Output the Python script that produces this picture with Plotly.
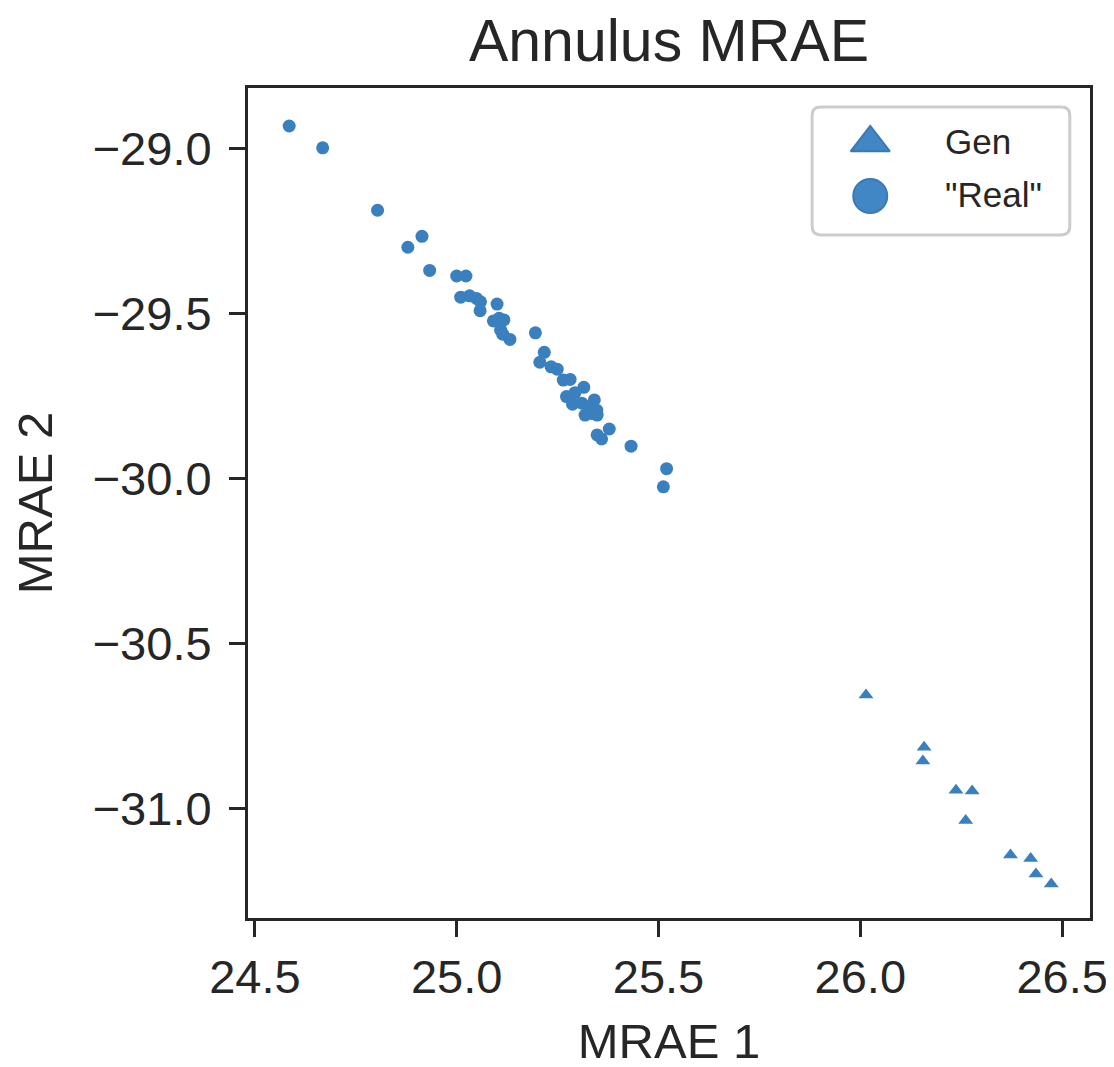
import plotly.graph_objects as go

# "Real" points (circles)
real_x = [24.585, 24.668, 24.804, 24.914, 24.879, 24.933, 25.000, 25.023, 25.010, 25.032,
          25.049, 25.059, 25.058, 25.100, 25.091, 25.105, 25.117, 25.109, 25.114, 25.132,
          25.195, 25.217, 25.206, 25.234, 25.249, 25.264, 25.281, 25.315, 25.272, 25.293,
          25.287, 25.310, 25.341, 25.318, 25.334, 25.347, 25.348, 25.328, 25.378, 25.348,
          25.359, 25.432, 25.520, 25.512]
real_y = [-28.933, -28.999, -29.188, -29.267, -29.300, -29.370, -29.387, -29.387, -29.451, -29.447,
          -29.455, -29.465, -29.492, -29.472, -29.523, -29.515, -29.520, -29.551, -29.563, -29.579,
          -29.559, -29.618, -29.648, -29.662, -29.669, -29.702, -29.700, -29.724, -29.752, -29.740,
          -29.775, -29.772, -29.762, -29.808, -29.803, -29.793, -29.808, -29.783, -29.850, -29.868,
          -29.880, -29.902, -29.970, -30.025]

# "Gen" points (triangles)
gen_x = [26.014, 26.158, 26.155, 26.237, 26.277, 26.261, 26.372, 26.422, 26.435, 26.473]
gen_y = [-30.655, -30.813, -30.855, -30.943, -30.946, -31.035, -31.139, -31.150, -31.197, -31.227]

x_ticks = [24.5, 25.0, 25.5, 26.0, 26.5]
y_ticks = [-29.0, -29.5, -30.0, -30.5, -31.0]
legend_names = ["Gen", "\"Real\""]

COLOR = "rgb(58,127,190)"
TEXT = "#262626"
FONT = "Liberation Sans, Arial, sans-serif"

fig = go.Figure()
fig.add_trace(go.Scatter(x=gen_x, y=gen_y, mode="markers", name=legend_names[0],
                         marker=dict(symbol="triangle-up", size=13, color=COLOR,
                                     line=dict(width=0))))
fig.add_trace(go.Scatter(x=real_x, y=real_y, mode="markers", name=legend_names[1],
                         marker=dict(symbol="circle", size=13, color=COLOR,
                                     line=dict(width=0))))

# Custom legend (large markers) on an overlay axis spanning the plot area
fig.add_trace(go.Scatter(x=[0.739, 0.739], y=[0.934, 0.870], mode="markers",
                         xaxis="x2", yaxis="y2", hoverinfo="skip",
                         marker=dict(symbol=["triangle-up", "circle"], size=34,
                                     color="rgba(66,135,197,1)",
                                     line=dict(width=2, color="rgb(58,122,180)"))))

# rounded legend frame (paper coords)
x0, x1, y0, y1 = 0.670, 0.976, 0.823, 0.977
rx, ry = 0.010, 0.010
path = (f"M {x0+rx},{y0} L {x1-rx},{y0} Q {x1},{y0} {x1},{y0+ry} "
        f"L {x1},{y1-ry} Q {x1},{y1} {x1-rx},{y1} L {x0+rx},{y1} Q {x0},{y1} {x0},{y1-ry} "
        f"L {x0},{y0+ry} Q {x0},{y0} {x0+rx},{y0} Z")
fig.add_shape(type="path", xref="paper", yref="paper", path=path,
              line=dict(color="#cccccc", width=3), fillcolor="rgba(255,255,255,0.8)", layer="below")
fig.add_annotation(x=0.825, y=0.936, xref="paper", yref="paper", text=legend_names[0],
                   showarrow=False, xanchor="left", yanchor="middle",
                   font=dict(size=35, color=TEXT, family=FONT))
fig.add_annotation(x=0.825, y=0.872, xref="paper", yref="paper", text=legend_names[1],
                   showarrow=False, xanchor="left", yanchor="middle",
                   font=dict(size=35, color=TEXT, family=FONT))

axis_common = dict(showgrid=False, zeroline=False, showline=True, linecolor=TEXT, linewidth=3,
                   mirror=True, ticks="outside", ticklen=16, tickwidth=3, tickcolor=TEXT,
                   tickfont=dict(size=47, color=TEXT, family=FONT))

fig.update_layout(
    width=1114, height=1067,
    margin=dict(l=240, r=32, t=80, b=157),
    paper_bgcolor="white", plot_bgcolor="white",
    showlegend=False,
    title=dict(text="Annulus MRAE", x=0.5, xref="paper", xanchor="center", y=0.9695,
               yanchor="middle", yref="container", font=dict(size=59, color=TEXT, family=FONT)),
    xaxis=dict(range=[24.483, 26.569], tickvals=x_ticks,
               ticktext=[f"{v:.1f}" for v in x_ticks],
               title=dict(text="MRAE 1", font=dict(size=49, color=TEXT, family=FONT), standoff=22),
               **axis_common),
    yaxis=dict(range=[-31.330, -28.818], tickvals=y_ticks,
               ticktext=[f"\u2212{abs(v):.1f}" for v in y_ticks], ticklabelstandoff=8,
               title=dict(text="MRAE 2", font=dict(size=49, color=TEXT, family=FONT), standoff=25),
               **axis_common),
    xaxis2=dict(overlaying="x", range=[0, 1], visible=False, fixedrange=True),
    yaxis2=dict(overlaying="y", range=[0, 1], visible=False, fixedrange=True),
)

fig.write_html("out.html")
